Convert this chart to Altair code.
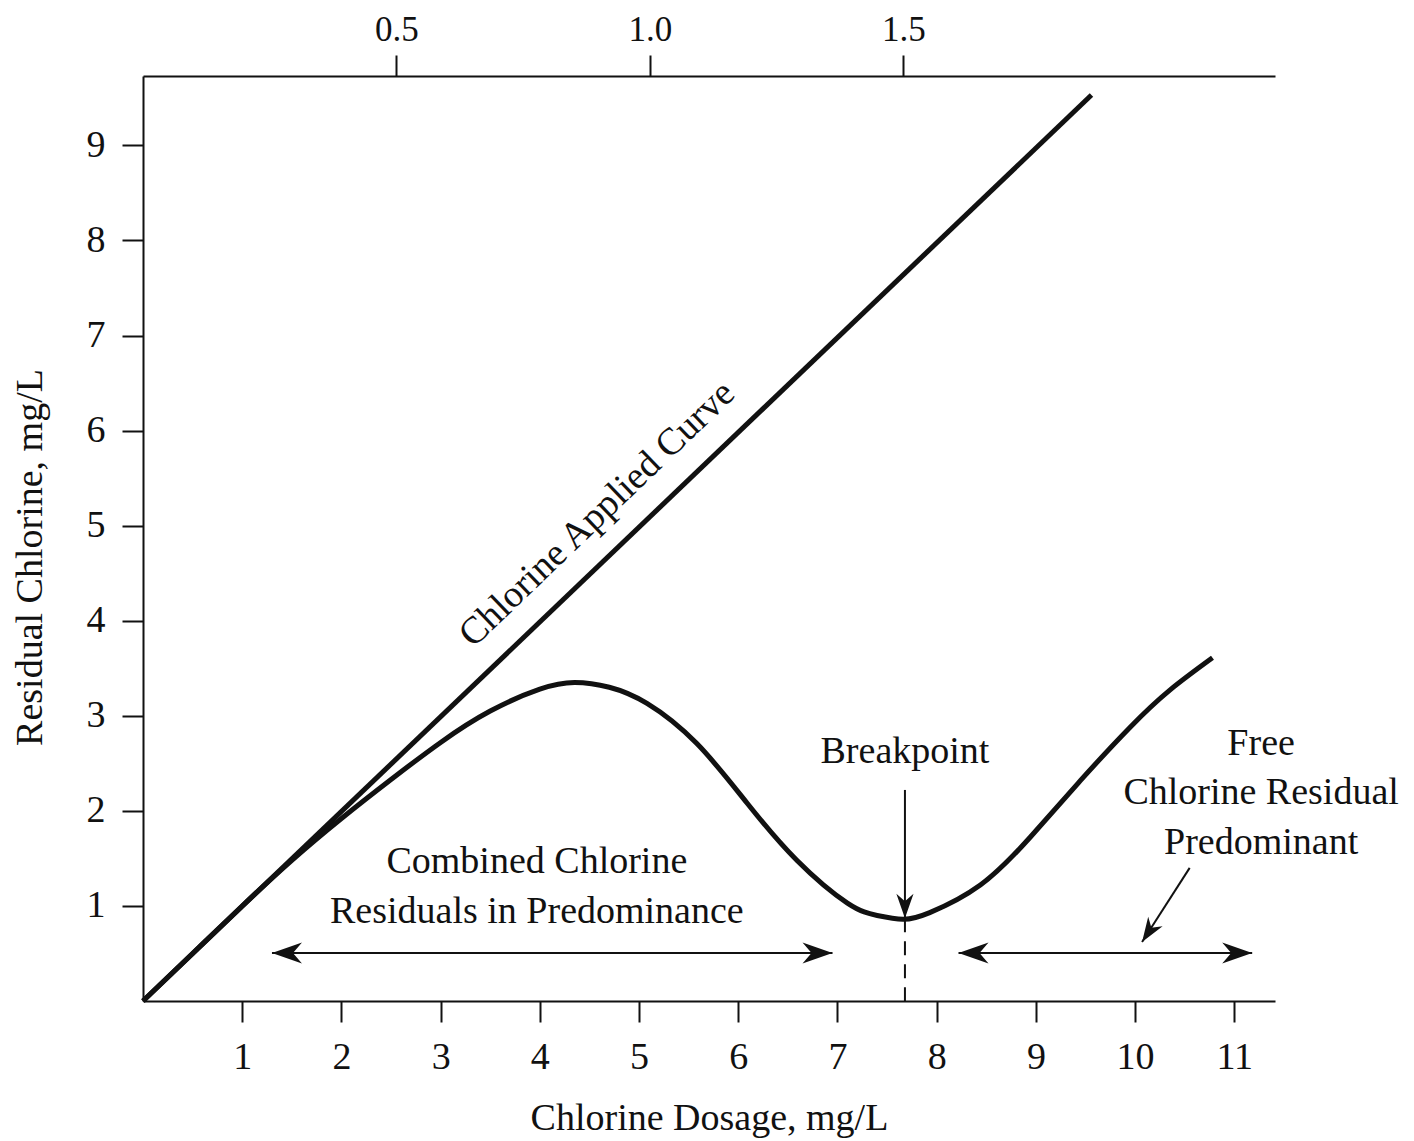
import altair as alt
import pandas as pd

# ---- data ----
applied_x = [0.0, 9.56]
applied_y = [0.0, 9.53]

resid_x = [0.0, 0.5, 1.0, 1.5, 2.0, 2.5, 3.0, 3.5, 4.0, 4.35, 4.7, 5.08, 5.58, 6.09,
           6.59, 7.1, 7.4, 7.66, 7.93, 8.44, 8.94, 9.45, 9.95, 10.35, 10.78]
resid_y = [0.0, 0.5, 1.0, 1.48, 1.92, 2.33, 2.72, 3.05, 3.28, 3.35, 3.30, 3.13, 2.71, 2.08,
           1.48, 1.03, 0.90, 0.86, 0.93, 1.22, 1.72, 2.32, 2.88, 3.27, 3.61]

x_ticks = list(range(1, 12))
y_ticks = list(range(1, 10))
top_ticks = [0.5, 1.0, 1.5]

X_MAX = 11.41
Y_MAX = 9.73
TOP_MAX = 2.233

# arrow shafts
shaft_x = [1.30, 8.22, 7.68, 10.55]
shaft_x2 = [6.95, 11.18, 7.68, 10.07]
shaft_y = [0.505, 0.505, 2.22, 1.40]
shaft_y2 = [0.505, 0.505, 0.87, 0.62]

# arrow heads (tip positions, direction in degrees clockwise from right)
head_x = [1.30, 6.95, 8.22, 11.18, 7.68, 10.07]
head_y = [0.505, 0.505, 0.505, 0.505, 0.87, 0.62]
head_angle = [180, 0, 180, 0, 90, 123]
head_size = [900, 900, 900, 900, 600, 600]

# dashed breakpoint line
dash_x = [7.68]
dash_y = [0.87]
dash_y2 = [0.0]

# annotations
note_text = ["Combined Chlorine", "Residuals in Predominance", "Breakpoint",
             "Free", "Chlorine Residual", "Predominant"]
note_x = [3.97, 3.97, 7.68, 11.27, 11.27, 11.27]
note_y = [1.46, 0.94, 2.62, 2.70, 2.19, 1.66]

curve_label = ["Chlorine Applied Curve"]
curve_label_x = [4.58]
curve_label_y = [5.12]

FONT = "Liberation Serif"
FS = 38
INK = "#111111"

W, H = 1132, 925

xs = alt.Scale(domain=[0, X_MAX], nice=False, zero=False)
ys = alt.Scale(domain=[0, Y_MAX], nice=False, zero=False)

X = alt.X("x:Q", scale=xs, title="Chlorine Dosage, mg/L",
          axis=alt.Axis(values=x_ticks, orient="bottom", labelPadding=16,
                        titleX=566, titleY=117, titleBaseline="middle", titleAlign="center"))
Y = alt.Y("y:Q", scale=ys, title="Residual Chlorine, mg/L",
          axis=alt.Axis(values=y_ticks, orient="left", labelPadding=17,
                        titleX=-113, titleY=481, titleAngle=270,
                        titleAlign="center", titleBaseline="middle"))

applied = alt.Chart(pd.DataFrame({"x": applied_x, "y": applied_y})).mark_line(
    color=INK, strokeWidth=5).encode(x=X, y=Y)

resid = alt.Chart(pd.DataFrame({"x": resid_x, "y": resid_y})).mark_line(
    color=INK, strokeWidth=5, interpolate="natural").encode(x=X, y=Y)

shafts = alt.Chart(pd.DataFrame({"x": shaft_x, "x2": shaft_x2, "y": shaft_y, "y2": shaft_y2})).mark_rule(
    color=INK, strokeWidth=2).encode(x=X, x2="x2:Q", y=Y, y2="y2:Q")

dashed = alt.Chart(pd.DataFrame({"x": dash_x, "y": dash_y, "y2": dash_y2})).mark_rule(
    color=INK, strokeWidth=2, strokeDash=[14, 9]).encode(x=X, y=Y, y2="y2:Q")

heads = alt.Chart(pd.DataFrame({"x": head_x, "y": head_y, "a": head_angle, "s": head_size})).mark_point(
    shape="M0,0 L-2,-0.7 L-1.4,0 L-2,0.7 Z", filled=True, color=INK, opacity=1, strokeWidth=0
).encode(x=X, y=Y, angle=alt.Angle("a:Q", scale=None), size=alt.Size("s:Q", scale=None))

notes = alt.Chart(pd.DataFrame({"x": note_x, "y": note_y, "t": note_text})).mark_text(
    font=FONT, fontSize=FS, color=INK, align="center", baseline="middle").encode(x=X, y=Y, text="t:N")

curve_lbl = alt.Chart(pd.DataFrame({"x": curve_label_x, "y": curve_label_y, "t": curve_label})).mark_text(
    font=FONT, fontSize=FS, color=INK, align="center", baseline="middle", angle=316.2
).encode(x=X, y=Y, text="t:N")

main = alt.layer(applied, resid, shafts, dashed, heads, notes, curve_lbl)

top_axis = alt.Chart(pd.DataFrame({"t": top_ticks})).mark_point(opacity=0).encode(
    x=alt.X("t:Q", scale=alt.Scale(domain=[0, TOP_MAX], nice=False, zero=False), title=None,
            axis=alt.Axis(values=top_ticks, orient="top", format=".1f", labelPadding=8,
                          labelFontSize=35)))

chart = alt.layer(main, top_axis).resolve_scale(
    x="independent"
).properties(
    width=W, height=H,
    autosize=alt.AutoSizeParams(type="none"),
    padding={"left": 135, "top": 68, "right": 131, "bottom": 140},
    background="white",
).configure_view(stroke=None).configure_axis(
    grid=False, domainColor=INK, domainWidth=2, tickColor=INK, tickWidth=2, tickSize=21,
    labelFont=FONT, labelFontSize=FS, labelColor=INK, titleFont=FONT, titleFontSize=FS,
    titleColor=INK, titleFontWeight="normal", labelFlush=False, labelOverlap=False
)

chart.save("out.html", embed_options={"renderer": "svg", "actions": False})
